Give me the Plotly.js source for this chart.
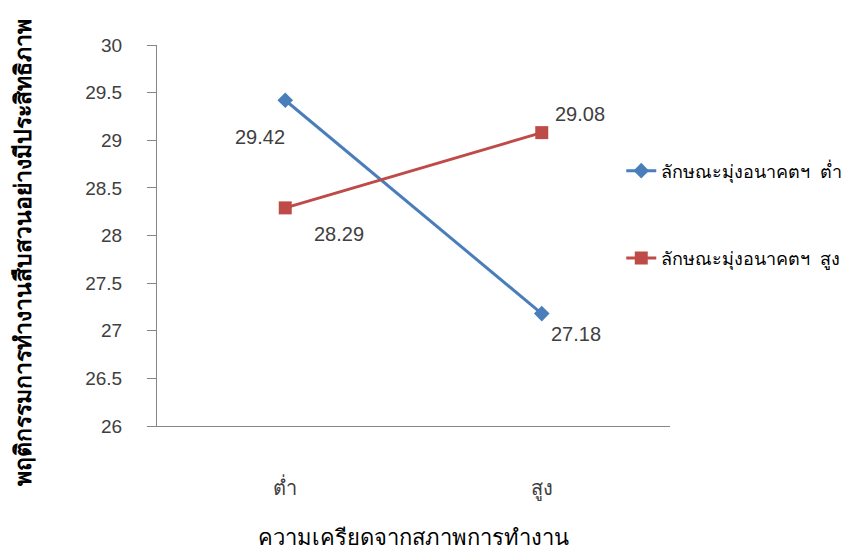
<!DOCTYPE html>
<html>
<head>
<meta charset="utf-8">
<script src="https://cdn.plot.ly/plotly-3.0.1.min.js"></script>
<style>html,body{margin:0;padding:0;background:#fff;}#chart{width:843px;height:552px;}</style>
</head>
<body>
<div id="chart"></div>
<script>
var categories = ["ต่ำ", "สูง"];
var seriesNames = ["ลักษณะมุ่งอนาคตฯ\u00a0\u00a0ต่ำ", "ลักษณะมุ่งอนาคตฯ\u00a0\u00a0สูง"];
var seriesLow = [29.42, 27.18];
var seriesHigh = [28.29, 29.08];
var yTicks = [26, 26.5, 27, 27.5, 28, 28.5, 29, 29.5, 30];
var yTitle = "พฤติกรรมการทำงานสืบสวนอย่างมีประสิทธิภาพ";
var xTitle = "ความเครียดจากสภาพการทำงาน";

var FONT = "Liberation Sans, Arial, sans-serif";
var blue = "#4A7EBB", red = "#BE4B48";

var traces = [
  {x: categories, y: seriesLow, name: seriesNames[0], type: "scatter", mode: "lines+markers",
   line: {color: blue, width: 3}, marker: {symbol: "diamond", size: 12, color: blue}, legendgroup: "a"},
  {x: categories, y: seriesHigh, name: seriesNames[1], type: "scatter", mode: "lines+markers",
   line: {color: red, width: 3}, marker: {symbol: "square", size: 13, color: red}, legendgroup: "b"}
];

// label offsets (style): [dx, dy] in px
var offLow = [[-25, 37], [34, 20]];
var offHigh = [[54, 26], [38, -19]];
var annotations = [];
function addLabels(vals, offs) {
  vals.forEach(function (v, i) {
    annotations.push({x: categories[i], y: v, xref: "x", yref: "y", text: v.toFixed(2),
      showarrow: false, xshift: offs[i][0], yshift: -offs[i][1],
      font: {family: FONT, size: 20, color: "#404040"}});
  });
}
addLabels(seriesLow, offLow);
addLabels(seriesHigh, offHigh);
annotations.push({text: "<b>" + yTitle + "</b>", xref: "paper", yref: "paper", x: 0, y: 0.5,
  xanchor: "center", yanchor: "middle",
  xshift: -135, yshift: -17, textangle: -90, showarrow: false,
  font: {family: FONT, size: 23, color: "#000"}});
annotations.push({text: xTitle, xref: "paper", yref: "paper", x: 0.5, y: 0,
  xanchor: "center", yanchor: "middle",
  yshift: -111, showarrow: false, font: {family: FONT, size: 22, color: "#000"}});

var layout = {
  width: 843, height: 552,
  margin: {l: 157, r: 173, t: 45, b: 126, autoexpand: false},
  paper_bgcolor: "#fff", plot_bgcolor: "#fff",
  showlegend: true,
  legend: {x: 0.905, y: 0.718, xanchor: "left", yanchor: "top", tracegroupgap: 61,
    font: {family: FONT, size: 18, color: "#000"}, bgcolor: "rgba(0,0,0,0)"},
  xaxis: {type: "category", range: [-0.5, 1.5], showline: true, linecolor: "#868686", linewidth: 1,
    ticks: "", showgrid: false, zeroline: false, ticklabelstandoff: 44, automargin: false,
    tickfont: {family: FONT, size: 20, color: "#404040"}},
  yaxis: {range: [26, 30], tickvals: yTicks, ticktext: yTicks.map(String), showline: true,
    linecolor: "#868686", linewidth: 1, ticks: "outside", ticklen: 9, tickcolor: "#868686",
    showgrid: false, zeroline: false, ticklabelstandoff: 21, automargin: false,
    tickfont: {family: FONT, size: 19, color: "#404040"}},
  annotations: annotations
};
Plotly.newPlot("chart", traces, layout, {displayModeBar: false});
</script>
</body>
</html>
